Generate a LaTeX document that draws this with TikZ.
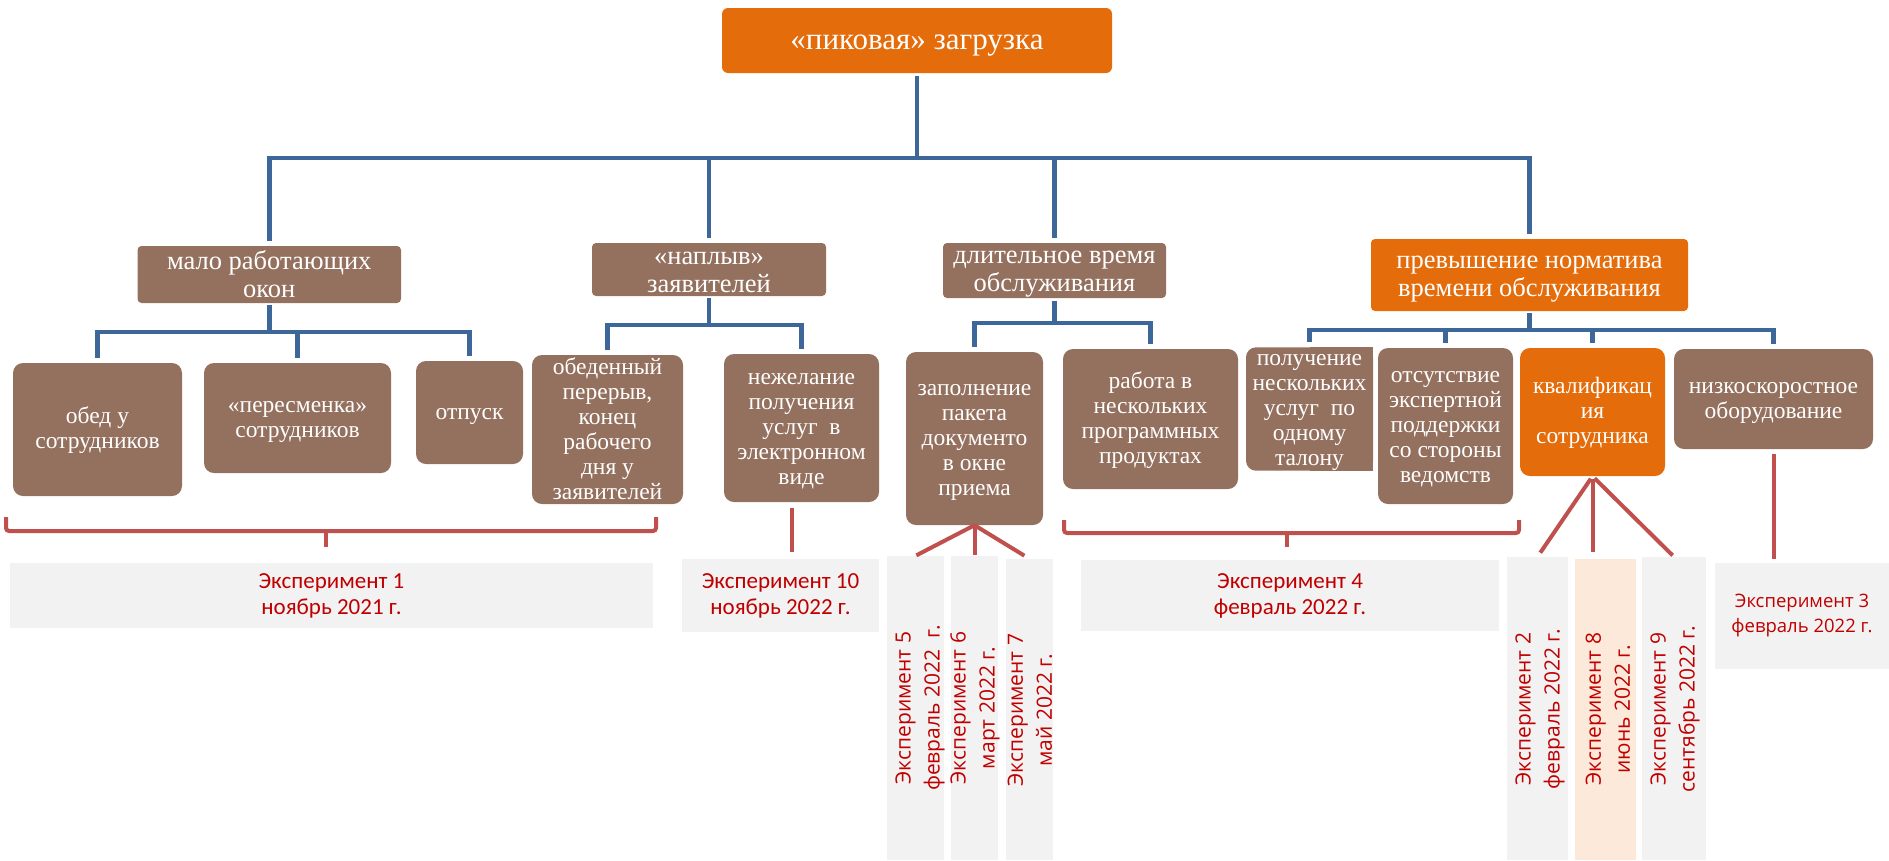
\documentclass[tikz,border=0pt]{standalone}
\usepackage{fontspec}
\setmainfont{Liberation Serif}
\newfontfamily\boxfont{Liberation Serif}
\newfontfamily\calfont{Carlito}
\newfontfamily\osfont{Open Sans}
\usetikzlibrary{calc,backgrounds}
\definecolor{orng}{RGB}{228,108,10}
\definecolor{brwn}{RGB}{148,112,94}
\definecolor{blu}{RGB}{62,103,153}
\definecolor{redl}{RGB}{192,80,77}
\definecolor{redt}{RGB}{192,0,0}
\definecolor{gry}{RGB}{242,242,242}
\definecolor{pch}{RGB}{252,233,218}
\newcommand\bxt[1]{\rule{0pt}{0.78em}#1\rule[-0.12em]{0pt}{0pt}}
\tikzset{
  wh/.style 2 args={minimum width=#1, minimum height=#2},
  lvl/.style={fill=brwn, text=white, inner sep=0pt, align=center},
  topbox/.style={lvl, fill=orng, rounded corners=6pt, font=\boxfont\fontsize{31}{36}\selectfont},
  midbox/.style={lvl, rounded corners=4pt, font=\boxfont\fontsize{26.5}{28}\selectfont},
  lowbox/.style={lvl, rounded corners=10pt, font=\boxfont\fontsize{23.5}{25}\selectfont},
  expbox/.style={fill=gry, inner sep=0pt, align=center, text=redt},
  calexp/.style={font=\calfont\fontsize{23}{26}\selectfont},
  vtext/.style={rotate=90, inner sep=0pt, align=center, text=redt, font=\osfont\fontsize{21}{29}\selectfont},
  bl/.style={draw=blu, line width=4.5pt, shorten <=3pt, shorten >=5pt},
  rl/.style={draw=redl, line width=4pt},
}
\begin{document}
\begin{tikzpicture}[x=1pt,y=-1pt]
\useasboundingbox (0,0) rectangle (1889,860);

% top
\node[topbox, wh={390}{65}] (top) at (917,40.5) {\bxt{«пиковая» загрузка}};
% level 2
\node[midbox, wh={263.5}{57}] (malo) at (269.25,274.5) {\bxt{мало работающих\\окон}};
\node[midbox, wh={234}{53}] (napl) at (709,269.5) {\bxt{«наплыв»\\заявителей}};
\node[midbox, wh={223}{55}] (dlit) at (1054.5,270.5) {\bxt{длительное время\\обслуживания}};
\node[midbox, fill=orng, wh={317}{72}] (prev) at (1529.5,275) {\bxt{превышение норматива\\времени обслуживания}};
% level 3
\node[lowbox, wh={169}{133}] (obed) at (97.5,429.5) {\bxt{обед у\\сотрудников}};
\node[lowbox, wh={187}{110}] (peres) at (297.5,418) {\bxt{«пересменка»\\сотрудников}};
\node[lowbox, wh={107}{103}] (otp) at (469.5,412.5) {\bxt{отпуск}};
\node[lowbox, wh={151}{149}] (obper) at (607.5,429.5) {\bxt{обеденный\\перерыв,\\конец\\рабочего\\дня у\\заявителей}};
\node[lowbox, wh={155}{148}] (nezh) at (801.5,428) {\bxt{нежелание\\получения\\услуг\ \ в\\электронном\\виде}};
\node[lowbox, wh={137}{173}] (zap) at (974.5,438.5) {\bxt{заполнение\\пакета\\документо\\в окне\\приема}};
\node[lowbox, wh={175}{140}] (rab) at (1150.5,419) {\bxt{работа в\\нескольких\\программных\\продуктах}};
\node[lowbox, wh={127}{122}] (pol) at (1309.5,409) {\bxt{получение\\нескольких\\услуг\ \ по\\одному\\талону}};
\begin{scope}[on background layer]
\fill[brwn] (pol.north) rectangle (pol.south east);
\end{scope}
\node[lowbox, wh={135}{156}] (ots) at (1445.5,426) {\bxt{отсутствие\\экспертной\\поддержки\\со стороны\\ведомств}};
\node[lowbox, fill=orng, wh={145}{128}] (kv) at (1592.5,412) {\bxt{квалификац\\ия\\сотрудника}};
\node[lowbox, wh={199}{100}] (nizk) at (1773.5,399) {\bxt{низкоскоростное\\оборудование}};

% experiment boxes
\node[expbox, calexp, wh={643}{65}] (e1) at (331.5,595.5) {Эксперимент 1\\ноябрь 2021 г.};
\node[expbox, calexp, wh={197}{73}] (e10) at (780.5,595.5) {Эксперимент 10\\ноябрь 2022 г.};
\node[expbox, calexp, wh={418}{71}] (e4) at (1290,595.5) {Эксперимент 4\\февраль 2022 г.};
\node[expbox, wh={174}{106}, font=\osfont\fontsize{18.5}{25}\selectfont] (e3) at (1802,616) {Эксперимент 3\\февраль 2022 г.};
\node[expbox, wh={57}{304}] (e5) at (915.5,708) {};
\node[expbox, wh={47}{304}] (e6) at (974.5,708) {};
\node[expbox, wh={47}{301}] (e7) at (1029.5,709.5) {};
\node[expbox, wh={61}{303}] (e2) at (1537.5,708.5) {};
\node[expbox, fill=pch, wh={61}{301}] (e8) at (1605.5,709.5) {};
\node[expbox, wh={64}{303}] (e9) at (1674,708.5) {};
\node[vtext] (e5t) at (920,708) {Эксперимент 5\\февраль 2022\ \ г.};
\node[vtext] (e6t) at (975,708) {Эксперимент 6\\март 2022 г.};
\node[vtext] (e7t) at (1030,710) {Эксперимент 7\\май 2022 г.};
\node[vtext] (e2t) at (1540,709) {Эксперимент 2\\февраль 2022 г.};
\node[vtext] (e8t) at (1608,709) {Эксперимент 8\\июнь 2022 г.};
\node[vtext] (e9t) at (1675,709) {Эксперимент 9\\сентябрь 2022 г.};

% blue connectors
\foreach \c in {malo,napl,dlit,prev}
  \draw[bl] (top.south) -- ++(0,85) -| (\c.north);
\foreach \c in {obed,peres,otp}
  \draw[bl, shorten <=2pt] (malo.south) -- ++(0,29) -| (\c.north);
\foreach \c in {obper,nezh}
  \draw[bl, shorten <=2pt] (napl.south) -- ++(0,29) -| (\c.north);
\foreach \c in {zap,rab}
  \draw[bl, shorten <=3pt] (dlit.south) -- ++(0,25) -| (\c.north);
\foreach \c in {pol,ots,kv,nizk}
  \draw[bl, shorten <=2pt] (prev.south) -- ++(0,19) -| (\c.north);

% red braces
\draw[rl, rounded corners=3pt] (6,517) -- (6,531) -- (656,531) -- (656,517);
\draw[rl] (326,531) -- (326,547);
\draw[rl, rounded corners=3pt] (1064,520) -- (1064,533) -- (1519,533) -- (1519,520);
\draw[rl] (1287,533) -- (1287,547);

% red connectors
\draw[rl] ($(nezh.south)+(-9.5,6)$) -- ($(nezh.south)+(-9.5,50)$);
\draw[rl, shorten >=1pt] (zap.south) -- (e5.north);
\draw[rl, shorten >=1pt] (zap.south) -- (zap.south |- e6.north);
\draw[rl, shorten >=6pt] (zap.south) -- (e7.north);
\draw[rl, shorten <=3pt, shorten >=5pt] (kv.south) -- (e2.north);
\draw[rl, shorten <=3pt, shorten >=7pt] (kv.south) -- (kv.south |- e8.north);
\draw[rl, shorten <=3pt, shorten >=2pt] (kv.south) -- (e9.north);
\draw[rl, shorten <=5pt, shorten >=4pt] (nizk.south) -- (nizk.south |- e3.north);
\end{tikzpicture}
\end{document}
